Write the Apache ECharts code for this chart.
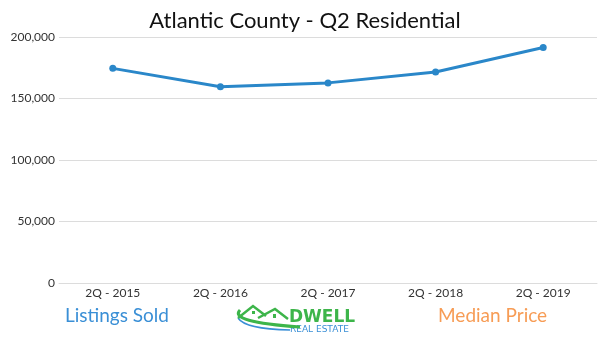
<!DOCTYPE html>
<html>
<head>
<meta charset="utf-8">
<script src="https://cdn.jsdelivr.net/npm/echarts@6/dist/echarts.min.js"></script>
<style>html,body{margin:0;padding:0;background:#fff}#c{width:610px;height:339px}</style>
</head>
<body>
<div id="c"></div>
<script>
const titleText = 'Atlantic County - Q2 Residential';
const categories = ['2Q - 2015', '2Q - 2016', '2Q - 2017', '2Q - 2018', '2Q - 2019'];
const medianPrice = [174500, 159500, 162700, 171600, 191400];
const yTicks = [0, 50000, 100000, 150000, 200000];
const footerLeft = 'Listings Sold';
const footerRight = 'Median Price';
const logoMain = 'DWELL';
const logoSub = 'REAL ESTATE';

const chart = echarts.init(document.getElementById('c'));
const green = '#3db54a';
chart.setOption({
  backgroundColor: '#fff',
  animation: false,
  title: {
    text: titleText, left: 'center', top: 5,
    textStyle: { fontFamily: 'Lato', fontWeight: 'normal', fontSize: 22, color: '#111' }
  },
  grid: { left: 59, right: 13, top: 37, bottom: 56 },
  xAxis: {
    type: 'category', data: categories, boundaryGap: true,
    axisLine: { lineStyle: { color: '#dcdcdc', width: 1 } },
    axisTick: { show: false },
    axisLabel: { color: '#333', fontFamily: 'Lato', fontSize: 12, margin: 4 }
  },
  yAxis: {
    type: 'value', min: yTicks[0], max: yTicks[yTicks.length - 1], interval: 50000,
    axisLine: { show: false }, axisTick: { show: false },
    splitLine: { lineStyle: { color: '#dcdcdc', width: 1 } },
    axisLabel: {
      color: '#333', fontFamily: 'Lato', fontSize: 12, margin: 4,
      formatter: v => v.toLocaleString('en-US')
    }
  },
  series: [{
    type: 'line', data: medianPrice, symbol: 'circle', symbolSize: 7,
    lineStyle: { color: '#2a87c9', width: 3 },
    itemStyle: { color: '#2a87c9' }
  }],
  graphic: [
    { type: 'text', left: 65, top: 306, style: { text: footerLeft, fill: '#3a8fd6', font: '19px Lato' } },
    { type: 'text', left: 438, top: 306, style: { text: footerRight, fill: '#f79c55', font: '19px Lato' } },
    { type: 'text', left: 289, top: 309, style: { text: logoMain, fill: green, font: 'bold 17px "DejaVu Sans"' } },
    { type: 'text', left: 290, top: 325, style: { text: logoSub, fill: '#3a8fd6', font: '9px "DejaVu Sans"' } },
    { type: 'bezierCurve', shape: { x1: 240, y1: 310, cpx1: 228, cpy1: 322, x2: 300, y2: 327 },
      style: { stroke: green, lineWidth: 3, fill: null } },
    { type: 'bezierCurve', shape: { x1: 238, y1: 318, cpx1: 245, cpy1: 329, x2: 290, y2: 330 },
      style: { stroke: '#3a8fd6', lineWidth: 1.5, fill: null } },
    { type: 'polyline', shape: { points: [[238, 318], [253, 306], [266, 316]] },
      style: { stroke: green, lineWidth: 2.5, fill: null } },
    { type: 'polyline', shape: { points: [[258, 318], [275, 309], [288, 319]] },
      style: { stroke: green, lineWidth: 2.5, fill: null } },
    { type: 'rect', shape: { x: 252, y: 311, width: 3, height: 3 }, style: { fill: green } },
    { type: 'rect', shape: { x: 273, y: 314, width: 3, height: 4 }, style: { fill: green } }
  ]
});
</script>
</body>
</html>
